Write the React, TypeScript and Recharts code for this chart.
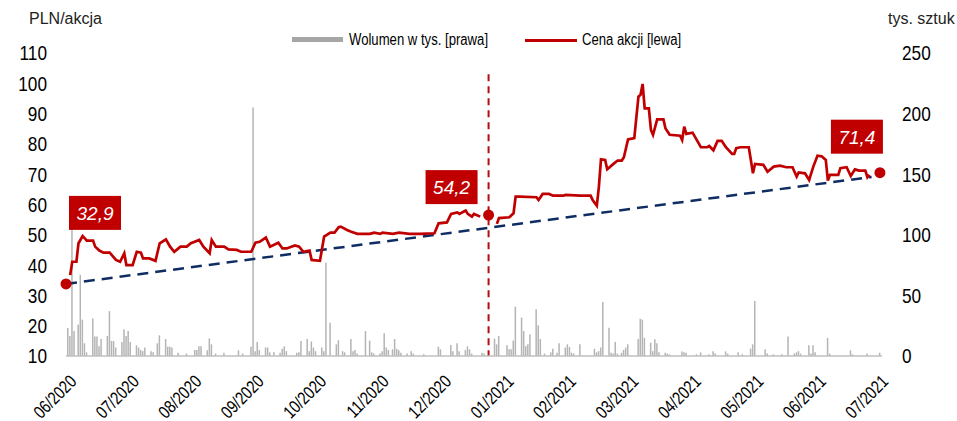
import React from 'react';
import { ComposedChart, Bar, Line, Scatter, XAxis, YAxis, ReferenceLine } from 'recharts';

// Month tick labels (x axis), one every 30 day-units
const monthLabels = ['06/2020','07/2020','08/2020','09/2020','10/2020','11/2020','12/2020','01/2021','02/2021','03/2021','04/2021','05/2021','06/2021','07/2021'];
const leftTicks = [10, 20, 30, 40, 50, 60, 70, 80, 90, 100, 110];
const rightTicks = [0, 50, 100, 150, 200, 250];

// Share price (PLN), day index from 06/2020
const priceDays = [2,3,5,6,8,10,13,14,16,18,21,24,26,28,29,32,34,36,37,40,43,45,48,50,52,55,58,60,64,66,69,70,72,76,78,82,84,89,91,93,96,98,102,104,106,110,112,114,117,118,122,124,127,129,131,132,135,137,140,146,148,151,152,157,160,165,170,177,179,183,185,188,189,192,193,195,196,199,
  202,
  207,208,213,215,216,218,226,227,229,232,234,239,240,247,252,253,255,256,257,259,260,263,265,267,268,270,273,275,276,277,278,280,281,282,284,287,288,290,295,296,297,298,301,305,308,309,311,313,315,317,320,321,322,324,328,329,330,331,335,337,340,343,346,349,351,352,355,357,359,361,363,365,366,367,371,372,375,377,379,381,384,385,386];
const priceValues: (number | null)[] = [36.7,41.1,41.1,47.2,49.6,48.1,48.1,46.1,44.8,44.1,44.1,41.7,41.1,43.9,40.0,40.0,44.4,44.1,42.2,42.2,41.4,47.2,48.5,46.1,44.4,46.1,46.1,47.2,48.3,46.1,43.9,48.3,46.1,46.1,45.2,45.0,44.4,44.4,47.4,47.7,49.1,46.1,47.4,45.5,45.5,46.5,46.1,44.4,44.8,41.7,41.4,49.4,50.7,50.7,52.5,52.7,51.6,51.0,50.3,50.3,50.7,50.3,50.7,50.3,50.7,50.3,50.3,50.5,53.8,54.1,56.9,57.4,56.9,58.0,56.9,56.0,56.9,56.0,
  null,
  53.6,55.5,55.8,57.1,62.6,62.6,62.4,61.5,63.5,63.5,62.9,62.9,63.2,62.9,62.9,61.5,59.6,65.9,74.9,74.7,71.6,73.4,74.5,74.5,75.6,81.5,81.9,95.6,96.2,99.8,91.7,91.7,84.6,83.0,88.1,88.1,85.1,83.0,82.7,81.3,85.7,83.3,83.7,78.9,78.9,79.3,77.9,81.0,81.0,78.9,76.7,76.7,78.6,78.9,78.9,74.7,70.3,73.4,73.1,70.8,72.5,72.8,72.3,72.3,69.2,70.6,70.3,68.1,72.5,76.1,75.9,74.7,67.9,69.8,69.8,72.0,72.3,69.4,71.6,71.2,71.2,69.0,69.8];

// Volume (thousand shares)
const volDays = [1,2,3,4,6,7,8,9,10,13,14,15,16,17,20,21,22,23,24,27,28,29,30,31,34,35,36,37,38,41,42,44,45,48,49,50,51,54,58,62,63,64,65,68,69,70,72,76,83,85,89,90,91,92,93,96,97,98,100,103,104,105,106,111,112,113,116,117,118,119,120,123,124,125,127,130,131,133,134,137,138,139,140,144,146,147,148,151,152,153,154,155,157,158,159,160,161,164,166,167,172,179,180,185,186,188,189,192,193,194,195,200,201,
  206,207,208,212,213,214,215,216,219,220,221,222,223,226,227,228,230,233,234,236,237,240,241,242,243,244,247,254,255,256,257,258,261,262,263,264,265,267,268,269,270,275,276,277,278,281,282,283,284,285,288,289,290,296,297,298,303,305,309,311,312,317,318,323,325,329,330,331,336,337,340,344,347,350,351,352,353,357,358,359,360,366,367,377,378,385,391];
const volValues = [23,16.5,105,20.6,26,67,30,10.5,3,31,16,16,8,14,16.5,37,12.4,12.4,7,11.6,22,16.5,20.6,11.6,8.8,7,5,4,7,4,3,10.5,17,14,7.7,7.7,7,2.7,2,5,5,8,8,4.7,14.6,9.6,2,2.7,4.7,2,7.7,205,4,11.6,5,7,7,3,3,2.7,6,8,4,2.7,3,12.4,14,4,12,7,4,7,4,77,27.5,9.6,13,4,3,14,4,5,2,20.6,12.7,3,2,2,4,18.7,7,5,5.5,14,6,4.7,2.7,2,4,2,1.4,7.7,5.5,9.1,4,10.5,4,5,8,5.5,2,2.7,2,
  14.3,9.6,16.5,8.8,5.5,5.5,12.7,40.7,31.7,20.6,8,9.6,17.8,38.5,25.3,14,2,3,6,2.7,10.5,7,9.6,7.4,2.7,2,9.6,6,3,4,7,44.6,23.4,2.7,2,11.6,2,2.7,5,7,9.6,14,30.8,30,15,11,4,13.8,10.5,3,2.7,2,1.4,3.8,3,2.7,1.4,3,1.4,4,2,3.8,2,3,1.4,6,9.6,45.4,5.5,2,1.4,1.4,16,2,3,4,2,8.8,2,8.8,3,15,2,4.7,1.4,2,2.7];

// Trend line and marked prices
const trendDays = [0, 387];
const trendValues = [33.8, 69.1];
const markDays = [0, 203, 391];
const markValues = [33.8, 56.5, 70.5];
const markLabels = ['32,9', '54,2', '71,4'];
const markerLineDay = 203;

const RED = '#C00000';
const NAVY = '#0F2D62';
const SANS = '"Liberation Sans", Arial, sans-serif';
const NARROW_SCALE = 0.82;

const volumeData = volDays.map((d, i) => ({ d, vol: volValues[i] }));
const priceData = priceDays.map((d, i) => ({ d, price: priceValues[i] }));
const trendData = trendDays.map((d, i) => ({ d, trend: trendValues[i] }));
const markData = markDays.map((d, i) => ({ d, mark: markValues[i], label: markLabels[i], idx: i }));
const monthTicks = monthLabels.map((_, i) => i * 30);

// label box offsets (centre of box relative to the point)
const boxOffsets = [[29, -71], [-37, -28], [-23, -36]];

const XTick = (props: any) => {
  const { x, y, payload } = props;
  const label = monthLabels[Math.round(payload.value / 30)];
  const ax = x + 7;
  const ay = y + 14;
  return (
    <text x={0} y={0} transform={`translate(${ax} ${ay}) rotate(-45) scale(0.8 1)`} textAnchor="end" dominantBaseline="central"
      fontSize={18} fontFamily={SANS} fill="#000">{label}</text>
  );
};

const YTick = (props: any) => {
  const { x, y, payload, textAnchor } = props;
  return (
    <text x={0} y={0} dy="0.355em" transform={`translate(${x} ${y}) scale(${NARROW_SCALE} 1)`} textAnchor={textAnchor}
      fontSize={21} fontFamily={SANS} fill="#000">{payload.value}</text>
  );
};

const MarkShape = (props: any) => {
  const { cx, cy, payload } = props;
  const off = boxOffsets[payload.idx];
  const bw = 52, bh = 34;
  const bx = cx + off[0];
  const by = cy + off[1];
  return (
    <g>
      <circle cx={cx} cy={cy} r={5.5} fill={RED} />
      <rect x={bx - bw / 2} y={by - bh / 2} width={bw} height={bh} fill={RED} />
      <text x={bx} y={by} dy="0.36em" textAnchor="middle" fill="#fff" fontSize={19} fontStyle="italic" fontFamily={SANS}>{payload.label}</text>
    </g>
  );
};

const narrowText: React.CSSProperties = {
  position: 'absolute', fontFamily: SANS, fontSize: 16, color: '#000', whiteSpace: 'nowrap',
  transform: `scaleX(${NARROW_SCALE})`, transformOrigin: 'left center', lineHeight: '18px',
};

export default function App() {
  return (
    <div style={{ position: 'absolute', left: 0, top: 0, width: 957, height: 421, background: '#fff' }}>
      <div style={{ position: 'absolute', left: 29, top: 10, fontFamily: SANS, fontSize: 16, color: '#222' }}>PLN/akcja</div>
      <div style={{ position: 'absolute', left: 888, top: 10, fontFamily: SANS, fontSize: 16, color: '#222' }}>tys. sztuk</div>
      <div style={{ position: 'absolute', left: 292, top: 37, width: 51, height: 5, background: '#A6A6A6' }} />
      <div style={{ ...narrowText, left: 349, top: 31 }}>Wolumen w tys. [prawa]</div>
      <div style={{ position: 'absolute', left: 525, top: 39, width: 52, height: 2.5, background: RED }} />
      <div style={{ ...narrowText, left: 582, top: 31 }}>Cena akcji [lewa]</div>
      <ComposedChart width={957} height={421} data={volumeData} margin={{ top: 53, right: 0, bottom: 0, left: 0 }}>
        <XAxis dataKey="d" type="number" domain={[0, 392]} ticks={monthTicks}
          height={65} tickLine={false} axisLine={{ stroke: '#BFBFBF', strokeWidth: 1.5 }} tick={<XTick />} interval={0} />
        <YAxis yAxisId="left" orientation="left" width={66} domain={[10, 110]} ticks={leftTicks}
          axisLine={false} tickLine={false} tickSize={0} tickMargin={19} tick={<YTick />} interval={0} />
        <YAxis yAxisId="right" orientation="right" width={75} domain={[0, 250]} ticks={rightTicks}
          axisLine={false} tickLine={false} tickSize={0} tickMargin={20} tick={<YTick />} interval={0} />
        <Bar yAxisId="right" dataKey="vol" fill="#B4B4B4" barSize={1.5} isAnimationActive={false} />
        <ReferenceLine yAxisId="left" segment={[{ x: markerLineDay, y: 103 }, { x: markerLineDay, y: 10 }]}
          stroke="#B01010" strokeWidth={2} strokeDasharray="7 5" />
        <Line yAxisId="left" data={trendData} dataKey="trend" stroke={NAVY} strokeWidth={2.5} strokeDasharray="11 7"
          dot={false} activeDot={false} isAnimationActive={false} />
        <Line yAxisId="left" data={priceData} dataKey="price" stroke={RED} strokeWidth={2.7} dot={false}
          activeDot={false} connectNulls={false} isAnimationActive={false} type="linear" />
        <Scatter yAxisId="left" data={markData} dataKey="mark" shape={<MarkShape />} isAnimationActive={false} />
      </ComposedChart>
    </div>
  );
}
